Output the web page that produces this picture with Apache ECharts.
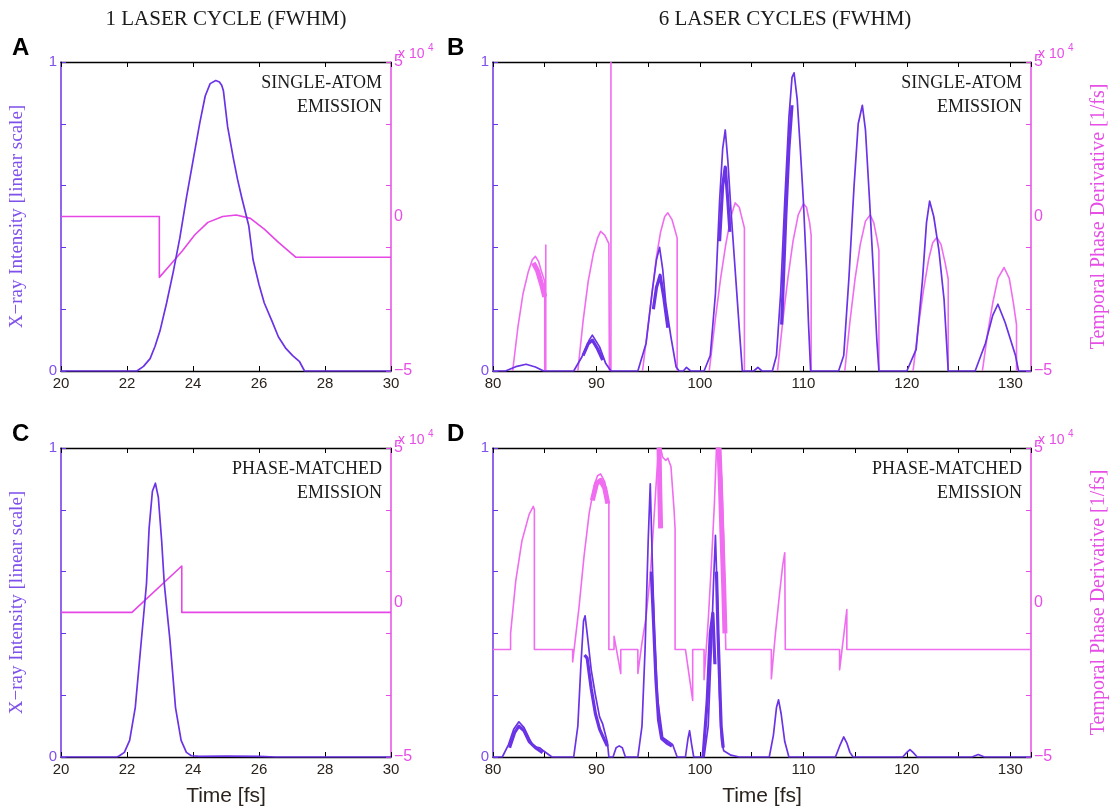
<!DOCTYPE html>
<html><head><meta charset="utf-8">
<script src="https://cdn.jsdelivr.net/npm/echarts@6/dist/echarts.min.js"></script>
<style>html,body{margin:0;padding:0;background:#fff}#c{width:1120px;height:812px}</style>
</head><body><div id="c"></div>
<script>
// ---------- data (time [fs], intensity 0..1, phase derivative x1e4 [1/fs]) ----------
const panelTitles = ['1 LASER CYCLE (FWHM)', '6 LASER CYCLES (FWHM)'];
const panelLetters = ['A', 'B', 'C', 'D'];
const panelNotes = [['SINGLE-ATOM', 'EMISSION'], ['SINGLE-ATOM', 'EMISSION'], ['PHASE-MATCHED', 'EMISSION'], ['PHASE-MATCHED', 'EMISSION']];
const leftAxisName = 'X\u2212ray Intensity [linear scale]';
const rightAxisName = 'Temporal Phase Derivative [1/fs]';
const timeAxisName = 'Time [fs]';

const aIntensity = [[20,0],[22.3,0],[22.5,0.015],[22.7,0.04],[22.85,0.08],[23.0,0.13],[23.2,0.22],[23.4,0.32],[23.6,0.43],[23.8,0.56],[24.0,0.68],[24.2,0.8],[24.37,0.89],[24.52,0.93],[24.69,0.94],[24.8,0.935],[24.87,0.925],[24.92,0.908],[24.97,0.912],[25.05,0.79],[25.22,0.69],[25.35,0.62],[25.48,0.56],[25.69,0.47],[25.82,0.36],[26.0,0.28],[26.16,0.22],[26.4,0.16],[26.59,0.11],[26.8,0.075],[27.02,0.05],[27.23,0.03],[27.38,0],[30,0]];
const aPhase = [[20,0],[22.98,0],[22.98,-1.97],[23.3,-1.58],[23.68,-1.11],[24.05,-0.6],[24.45,-0.19],[24.9,0.0],[25.31,0.05],[25.74,-0.06],[26.16,-0.41],[26.59,-0.84],[27.12,-1.32],[30,-1.32]];

const cIntensity = [[20,0],[21.7,0],[21.77,0.004],[21.92,0.015],[22.08,0.054],[22.25,0.16],[22.42,0.36],[22.59,0.56],[22.67,0.74],[22.77,0.86],[22.86,0.886],[22.95,0.84],[23.05,0.7],[23.13,0.56],[23.3,0.38],[23.47,0.16],[23.64,0.054],[23.8,0.015],[23.95,0.004],[24.2,0.002],[25.0,0.003],[26.0,0.002],[26.5,0],[30,0]];
const cPhase = [[20,-0.32],[22.15,-0.32],[23.66,1.18],[23.66,-0.32],[30,-0.32]];

const bIntensity = [[80,0],[81.2,0],[82.2,0.014],[83.2,0.022],[84.1,0.013],[84.9,0],
 [87.8,0],[88.6,0.046],[89.3,0.1],[89.6,0.116],[90.3,0.078],[90.9,0.024],[91.4,0],
 [94.0,0],[94.8,0.09],[95.4,0.26],[95.8,0.36],[96.1,0.40],[96.4,0.33],[96.7,0.22],[97.2,0.11],[97.7,0.013],[98.0,0],[98.4,0],[98.7,0.012],[99.1,0],
 [100.4,0],[101.0,0.05],[101.5,0.25],[101.9,0.55],[102.2,0.72],[102.45,0.78],[102.7,0.68],[103.0,0.52],[103.4,0.33],[103.8,0.14],[104.1,0],
 [105.2,0],[105.6,0.012],[106.0,0],
 [107.0,0],[107.4,0.05],[107.8,0.25],[108.2,0.55],[108.6,0.82],[108.9,0.95],[109.1,0.965],[109.4,0.88],[109.7,0.72],[110.0,0.55],[110.3,0.33],[110.5,0.15],[110.7,0],
 [113.4,0],[113.9,0.05],[114.4,0.3],[114.9,0.6],[115.3,0.8],[115.7,0.86],[116.0,0.78],[116.4,0.55],[116.8,0.3],[117.1,0.1],[117.3,0],
 [120.0,0],[120.9,0.07],[121.5,0.29],[121.9,0.48],[122.2,0.55],[122.6,0.5],[123.1,0.39],[123.6,0.23],[124.0,0],
 [126.6,0],[127.6,0.09],[128.3,0.18],[128.8,0.216],[129.5,0.157],[130.5,0.05],[130.8,0],[132,0]];
const bIntensityBand = [[88.7,0.05],[89.2,0.088],[89.6,0.1],[90.1,0.072],[90.6,0.035], null,
 [95.5,0.2],[95.8,0.27],[96.15,0.31],[96.5,0.24],[96.9,0.14], null,
 [101.9,0.42],[102.2,0.6],[102.45,0.66],[102.7,0.55],[102.9,0.45], null,
 [107.9,0.15],[108.3,0.5],[108.6,0.72],[108.9,0.86]];
const bPhase = [[81.9,-5],[82.4,-3.6],[82.9,-2.5],[83.4,-1.8],[83.8,-1.4],[84.1,-1.29],[84.4,-1.45],[84.7,-1.8],[85.0,-2.1],[85.0,-5], null,
 [85.1,-5],[85.1,-0.91], null,
 [88.2,-5],[88.7,-3.4],[89.2,-2.1],[89.7,-1.2],[90.1,-0.7],[90.4,-0.48],[90.8,-0.6],[91.2,-0.88],[91.25,-5], null,
 [91.4,-5],[91.4,5], null,
 [94.45,-5],[95.0,-3.5],[95.4,-2.4],[95.8,-1.3],[96.2,-0.5],[96.6,0.0],[96.9,0.12],[97.3,-0.1],[97.6,-0.45],[97.8,-0.7],[97.8,-5], null,
 [100.9,-5],[101.5,-3.3],[102.0,-2.0],[102.5,-0.9],[103.0,0.0],[103.4,0.44],[103.8,0.3],[104.1,-0.1],[104.3,-0.37],[104.3,-5], null,
 [107.5,-5],[108.0,-3.4],[108.5,-2.0],[109.0,-0.8],[109.5,0.05],[110.0,0.41],[110.3,0.3],[110.6,-0.2],[110.75,-0.6],[110.75,-5], null,
 [114.0,-5],[114.5,-3.4],[115.0,-2.0],[115.5,-0.9],[116.0,-0.15],[116.45,0.05],[116.8,-0.2],[117.1,-0.7],[117.3,-1.1],[117.3,-5], null,
 [120.6,-5],[121.1,-3.6],[121.6,-2.4],[122.1,-1.4],[122.5,-0.85],[122.9,-0.68],[123.3,-0.9],[123.7,-1.5],[124.0,-2.03],[124.0,-5], null,
 [127.3,-5],[127.8,-3.8],[128.3,-2.8],[128.8,-2.0],[129.4,-1.65],[129.9,-2.0],[130.3,-2.8],[130.6,-3.5],[130.6,-5]];
const bPhaseBand = [[83.9,-1.5],[84.3,-1.75],[84.7,-2.2],[85.0,-2.6]];

const dIntensity = [[80,0],[80.9,0],[81.5,0.04],[82.0,0.09],[82.5,0.114],[83.0,0.095],[83.5,0.06],[83.8,0.041],[84.2,0.032],[84.5,0.03],[84.8,0.022],[85.2,0.012],[85.7,0],
 [87.8,0],[88.2,0.1],[88.5,0.3],[88.75,0.44],[88.9,0.457],[89.1,0.4],[89.5,0.28],[89.9,0.2],[90.3,0.13],[90.6,0.107],[91.06,0.047],[91.2,0],
 [91.6,0],[91.9,0.03],[92.2,0.036],[92.5,0.03],[92.8,0],
 [94.0,0],[94.4,0.1],[94.7,0.35],[95.0,0.7],[95.2,0.884],[95.4,0.63],[95.6,0.4],[95.9,0.19],[96.4,0.063],[97.35,0.041],[97.8,0],
 [98.6,0],[98.85,0.06],[99.0,0.085],[99.2,0.04],[99.4,0],
 [100.4,0],[100.8,0.1],[101.1,0.35],[101.3,0.55],[101.5,0.717],[101.7,0.5],[101.9,0.2],[102.1,0.05],[102.3,0.02],[103.0,0.006],[103.8,0],
 [106.7,0],[107.1,0.07],[107.4,0.16],[107.6,0.185],[107.85,0.14],[108.2,0.05],[108.6,0],
 [113.1,0],[113.5,0.035],[113.9,0.065],[114.2,0.045],[114.5,0.015],[114.8,0],
 [119.6,0],[120.0,0.015],[120.3,0.024],[120.6,0.015],[121.0,0],
 [126.3,0],[126.9,0.008],[127.5,0],[132,0]];
const dIntensityBand = [[81.6,0.03],[82.1,0.08],[82.5,0.1],[83.0,0.085],[83.5,0.05],[84.1,0.03],[84.8,0.014], null,
 [88.85,0.33],[89.1,0.32],[89.5,0.22],[89.9,0.14],[90.3,0.09],[90.7,0.06],[91.05,0.035], null,
 [95.3,0.6],[95.5,0.45],[95.75,0.25],[96.0,0.12],[96.3,0.06],[96.8,0.045],[97.3,0.035], null,
 [101.6,0.6],[101.75,0.4],[101.9,0.25],[102.05,0.1],[102.25,0.03], null,
 [100.3,0],[100.7,0.18],[101.0,0.4],[101.25,0.465],[101.45,0.3]];
const dPhase = [[80,-1.52],[81.7,-1.52],[81.7,-1.0],[82.2,0.7],[82.8,2.0],[83.5,2.86],[83.9,3.11],[84.0,3.0],[84.0,-1.52],
 [87.7,-1.52],[87.7,-1.92],[88.3,-0.2],[88.8,1.5],[89.3,2.9],[89.8,3.8],[90.1,4.1],[90.4,4.16],[90.8,3.9],[91.1,3.35],[91.2,3.2],[91.2,-1.52],
 [91.7,-1.52],[91.7,-1.09],[92.35,-2.3],[92.35,-1.52],
 [94.0,-1.52],[94.0,-2.3],[94.4,-1.3],[94.8,-0.46],[95.2,0.9],[95.5,2.4],[95.8,4.0],[96.0,5.0],[96.2,5.0],[96.4,4.7],[96.7,4.6],[96.9,4.67],[97.2,4.4],[97.5,3.0],[97.6,2.37],[97.6,-1.52],
 [98.6,-1.52],[99.3,-3.17],[99.3,-1.52],
 [100.4,-1.52],[100.4,-2.5],[100.8,-0.6],[101.1,1.2],[101.4,3.2],[101.6,5.0],[101.9,5.0],[102.1,4.0],[102.3,2.0],[102.5,-1.52],
 [106.9,-1.52],[106.9,-2.47],[107.3,-1.0],[107.7,0.3],[108.0,1.2],[108.2,1.61],[108.25,-1.52],
 [113.5,-1.52],[113.5,-2.18],[114.2,-0.23],[114.2,-1.52],[132,-1.52]];
const dPhaseBand = [[89.6,3.3],[90.0,3.85],[90.4,3.95],[90.8,3.7],[91.1,3.2], null,
 [96.05,5],[96.12,3.6],[96.2,2.4], null,
 [101.85,5],[101.98,3.8],[102.12,2.3],[102.3,0.5],[102.42,-1.0]];

// ---------- styling ----------
const PURPLE = '#6a33e6', LABPURPLE = '#7f50ea', PINKA = '#e646e6', PINKB = '#f06cf0', AXPINK = '#e64ee6', DARK = '#2a221c';
const SERIF = '"Liberation Serif", "Times New Roman", serif', SANS = '"Liberation Sans", Arial, sans-serif';

const panels = [
  {grid:{left:61, top:62, width:330, height:309}, x:[20,30,2,2], leftName:true, rightName:false, xName:false, I:aIntensity, IB:null, P:aPhase, PB:null, pink:PINKA},
  {grid:{left:493, top:62, width:538, height:309}, x:[80,132,5,10], leftName:false, rightName:true, xName:false, I:bIntensity, IB:bIntensityBand, P:bPhase, PB:bPhaseBand, pink:PINKB},
  {grid:{left:61, top:448, width:330, height:309}, x:[20,30,2,2], leftName:true, rightName:false, xName:true, I:cIntensity, IB:null, P:cPhase, PB:null, pink:PINKA},
  {grid:{left:493, top:448, width:538, height:309}, x:[80,132,5,10], leftName:false, rightName:true, xName:true, I:dIntensity, IB:dIntensityBand, P:dPhase, PB:dPhaseBand, pink:PINKB}
];
const gaps = arr => arr.map(p => p === null ? [null, null] : p);

const option = {animation:false, backgroundColor:'#fff', grid:[], xAxis:[], yAxis:[], series:[], graphic:[]};

panels.forEach((p, i) => {
  option.grid.push(Object.assign({containLabel:false}, p.grid));
  const baseX = {gridIndex:i, type:'value', min:p.x[0], max:p.x[1], interval:p.x[2], splitLine:{show:false},
    axisLine:{show:true, onZero:false, lineStyle:{color:'#000', width:1.3}},
    axisTick:{show:true, inside:true, length:5, lineStyle:{color:'#000', width:1}}};
  option.xAxis.push(Object.assign({}, baseX, {position:'bottom',
    axisLabel:{color:DARK, fontSize:15, fontFamily:SANS, margin:5, showMaxLabel:true,
      formatter: v => (Math.abs(v % p.x[3]) < 1e-9 ? String(v) : '')},
    name: p.xName ? timeAxisName : '', nameLocation:'middle', nameGap:29,
    nameTextStyle:{color:DARK, fontSize:21, fontFamily:SANS}}));
  option.xAxis.push(Object.assign({}, baseX, {position:'top', axisLabel:{show:false}}));
  option.yAxis.push({gridIndex:i, type:'value', position:'left', min:0, max:1, interval:0.2, splitLine:{show:false},
    axisLine:{show:true, onZero:false, lineStyle:{color:PURPLE, width:1.5}},
    axisTick:{show:true, inside:true, length:5, lineStyle:{color:PURPLE, width:1}},
    axisLabel:{color:LABPURPLE, fontSize:15, fontFamily:SANS, margin:4,
      formatter: v => (Math.abs(v) < 1e-9 ? '0' : (Math.abs(v - 1) < 1e-9 ? '1' : ''))},
    name: p.leftName ? leftAxisName : '', nameLocation:'middle', nameGap:34, nameRotate:90,
    nameTextStyle:{color:LABPURPLE, fontSize:19, fontFamily:SERIF}});
  option.yAxis.push({gridIndex:i, type:'value', position:'right', min:-5, max:5, interval:5, splitLine:{show:false},
    axisLine:{show:true, onZero:false, lineStyle:{color:AXPINK, width:1.5}},
    axisTick:{show:false},
    axisLabel:{color:AXPINK, fontSize:16, fontFamily:SANS, margin:3,
      formatter: v => (v < 0 ? '\u2212' + Math.abs(v) : String(v))},
    name: p.rightName ? rightAxisName : '', nameLocation:'middle', nameGap:58, nameRotate:90,
    nameTextStyle:{color:AXPINK, fontSize:20, fontFamily:SERIF}});
  option.yAxis.push({gridIndex:i, type:'value', position:'right', min:0, max:1, interval:0.2, splitLine:{show:false},
    axisLine:{show:false}, axisLabel:{show:false},
    axisTick:{show:true, inside:true, length:5, lineStyle:{color:AXPINK, width:1}}});

  const mk = (data, yIdx, color, width, z) => ({type:'line', xAxisIndex:2*i, yAxisIndex:yIdx, data:gaps(data),
    showSymbol:false, symbol:'none', connectNulls:false, clip:true, z:z,
    lineStyle:{color:color, width:width, join:'round'}, itemStyle:{color:color}, emphasis:{disabled:true}});
  option.series.push(mk(p.P, 3*i+1, p.pink, 1.6, 2));
  if (p.PB) option.series.push(mk(p.PB, 3*i+1, p.pink, 5, 2));
  option.series.push(mk(p.I, 3*i, PURPLE, 1.7, 3));
  if (p.IB) option.series.push(mk(p.IB, 3*i, PURPLE, 3.2, 3));

  const g = p.grid;
  option.graphic.push({type:'text', left: (i % 2 === 0 ? 12 : 447), top: g.top - 26,
    style:{text:panelLetters[i], font:'bold 24px ' + SANS, fill:'#000'}});
  const rx = g.left + g.width - 9;
  option.graphic.push({type:'text', x: rx, y: g.top + 21, style:{text:panelNotes[i][0], font:'18px ' + SERIF, fill:'#1a1a1a', textAlign:'right', textVerticalAlign:'middle'}});
  option.graphic.push({type:'text', x: rx, y: g.top + 45, style:{text:panelNotes[i][1], font:'18px ' + SERIF, fill:'#1a1a1a', textAlign:'right', textVerticalAlign:'middle'}});
  const ex = g.left + g.width + 7;
  option.graphic.push({type:'text', x: ex, y: g.top - 8, style:{text:'x 10', font:'14px ' + SANS, fill:AXPINK, textVerticalAlign:'middle'}});
  option.graphic.push({type:'text', x: ex + 30, y: g.top - 14, style:{text:'4', font:'10px ' + SANS, fill:AXPINK, textVerticalAlign:'middle'}});
});

option.graphic.push({type:'text', x:226, y:19, style:{text:panelTitles[0], font:'21px ' + SERIF, fill:'#1a1a1a', textAlign:'center', textVerticalAlign:'middle'}});
option.graphic.push({type:'text', x:785, y:19, style:{text:panelTitles[1], font:'21px ' + SERIF, fill:'#1a1a1a', textAlign:'center', textVerticalAlign:'middle'}});

const chart = echarts.init(document.getElementById('c'), null, {renderer:'canvas'});
chart.setOption(option);
</script>
</body></html>
